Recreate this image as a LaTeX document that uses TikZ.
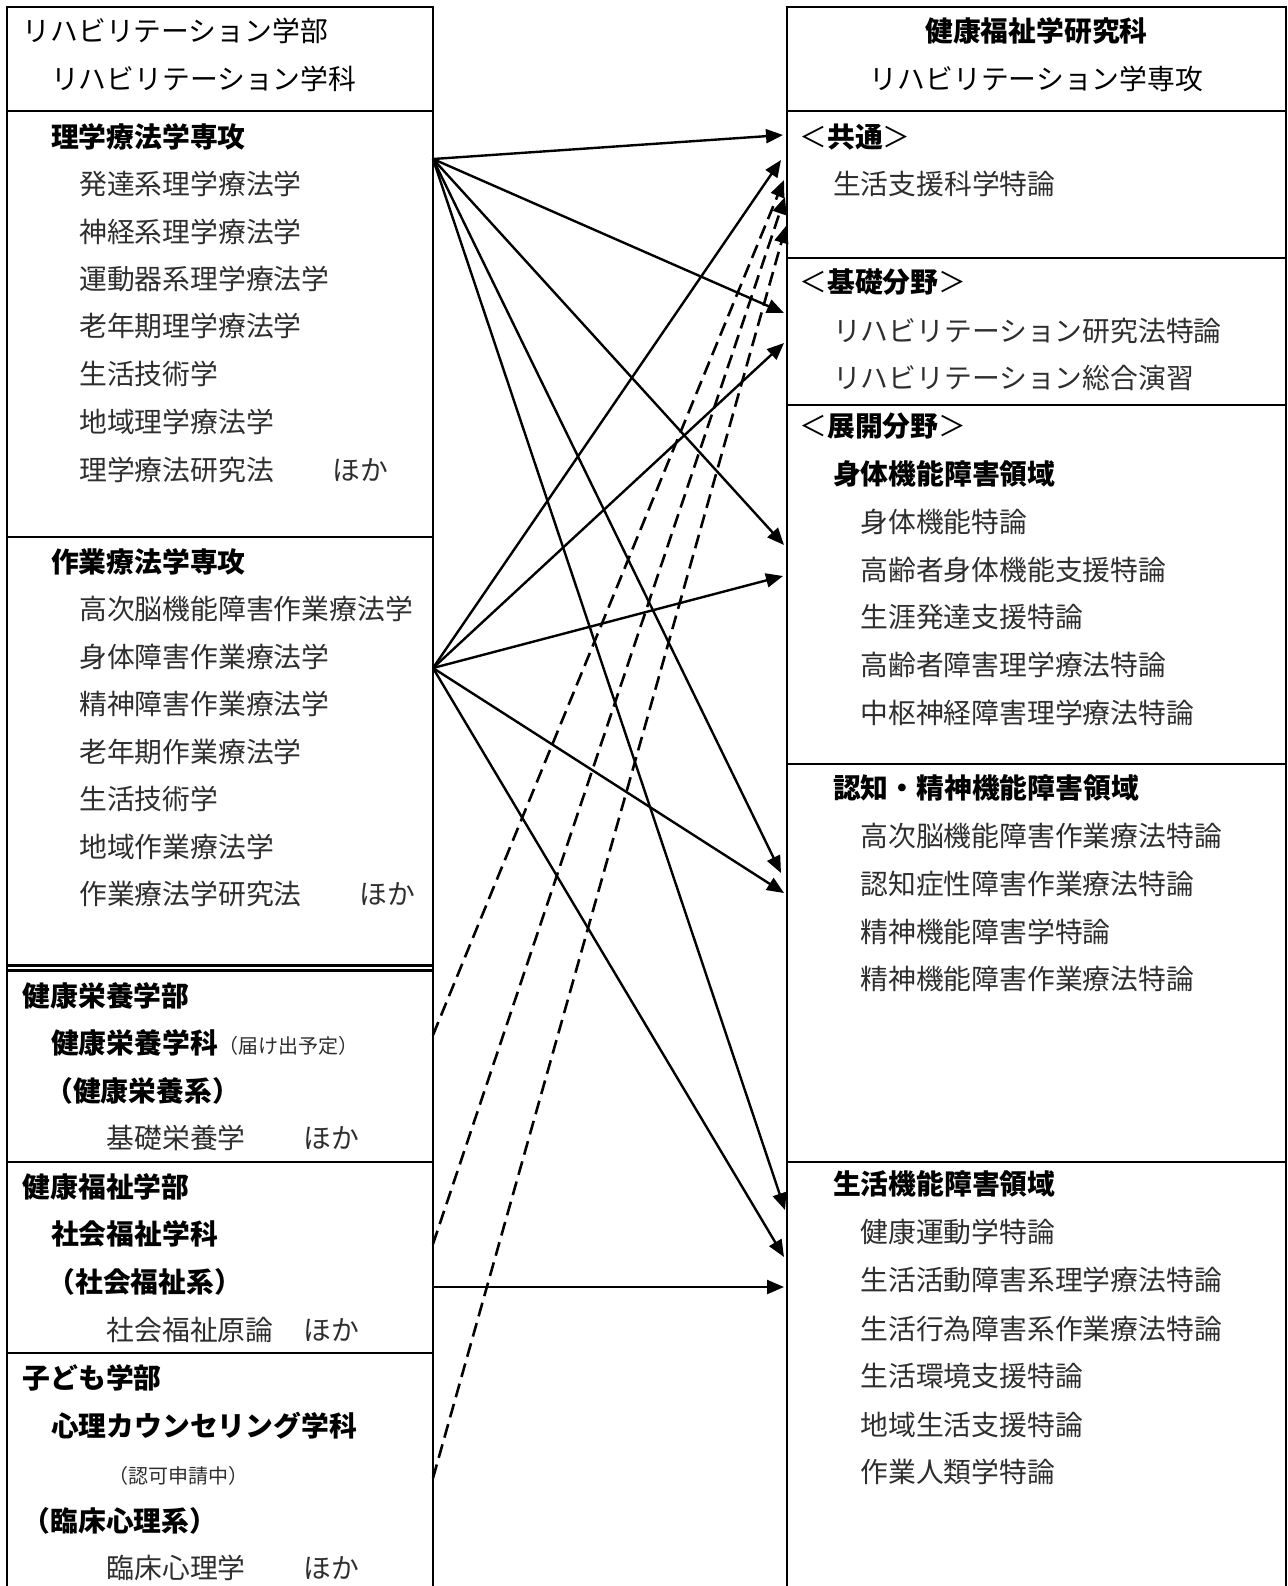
\documentclass[tikz,border=0pt]{standalone}
\usepackage{fontspec}
\setmainfont{Noto Sans CJK JP}
\usetikzlibrary{arrows.meta}
\begin{document}
\begin{tikzpicture}[x=0.5pt,y=-0.5pt,
  boxline/.style={line width=1.1pt},
  txt/.style={anchor=west,inner sep=0pt,text height=12.2pt,text depth=1.7pt,font=\fontsize{13.9pt}{16pt}\selectfont},
  hd/.style={txt,font=\fontsize{13.9pt}{16pt}\selectfont\bfseries},
  itm/.style={txt,text=black!82},
  small/.style={txt,text=black!82,font=\fontsize{10pt}{12pt}\selectfont},
  ctr/.style={anchor=center},
  conn/.style={line width=1.2pt,-{Triangle[length=8.5pt,width=7pt]}},
  dconn/.style={conn,line width=1.3pt,dash pattern=on 7pt off 3.5pt},
]
\useasboundingbox (0,0) rectangle (1288,1586);
% ---------------- boxes ----------------
\draw[boxline] (7,1590) -- (7,7) -- (433,7) -- (433,1590);
\draw[boxline] (7,111) -- (433,111);
\draw[boxline] (7,537) -- (433,537);
\draw[boxline] (7,965.5) -- (433,965.5);
\draw[boxline] (7,970.5) -- (433,970.5);
\draw[boxline] (7,1162) -- (433,1162);
\draw[boxline] (7,1353) -- (433,1353);
\draw[boxline] (787,1590) -- (787,7) -- (1286,7) -- (1286,1590);
\draw[boxline] (787,111) -- (1286,111);
\draw[boxline] (787,258) -- (1286,258);
\draw[boxline] (787,405) -- (1286,405);
\draw[boxline] (787,764) -- (1286,764);
\draw[boxline] (787,1162) -- (1286,1162);
% ---------------- left texts ----------------
\node[txt] (l1) at (22.3,31.4) {リハビリテーション学部};
\node[txt] (l2) at (50.6,79) {リハビリテーション学科};
\node[hd]  (l3) at (50.6,136.6) {理学療法学専攻};
\node[itm] (l4) at (78.9,184.1) {発達系理学療法学};
\node[itm] (l5) at (78.9,231.7) {神経系理学療法学};
\node[itm] (l6) at (78.9,279.3) {運動器系理学療法学};
\node[itm] (l7) at (78.9,325.8) {老年期理学療法学};
\node[itm] (l8) at (78.9,374.4) {生活技術学};
\node[itm] (l9) at (78.9,421.9) {地域理学療法学};
\node[itm] (l10) at (78.9,469.5) {理学療法研究法};
\node[itm] (l10h) at (331.9,469.5) {ほか};
\node[hd]  (l11) at (50.6,561.5) {作業療法学専攻};
\node[itm] (l12) at (78.9,609) {高次脳機能障害作業療法学};
\node[itm] (l13) at (78.9,656.7) {身体障害作業療法学};
\node[itm] (l14) at (78.9,704.2) {精神障害作業療法学};
\node[itm] (l15) at (78.9,751.8) {老年期作業療法学};
\node[itm] (l16) at (78.9,799.3) {生活技術学};
\node[itm] (l17) at (78.9,846.9) {地域作業療法学};
\node[itm] (l18) at (78.9,894.4) {作業療法学研究法};
\node[itm] (l18h) at (359.2,894.4) {ほか};
\node[hd]  (l19) at (22.3,995.6) {健康栄養学部};
\node[hd]  (l20) at (50.6,1043.2) {健康栄養学科};
\node[small,anchor=base west] (l20s) at (l20.base east) {（届け出予定）};
\node[hd]  (l21) at (45,1090.7) {（健康栄養系）};
\node[itm] (l22) at (106.2,1138.3) {基礎栄養学};
\node[itm] (l22h) at (303.5,1138.3) {ほか};
\node[hd]  (l23) at (22.3,1186.8) {健康福祉学部};
\node[hd]  (l24) at (50.6,1234.4) {社会福祉学科};
\node[hd]  (l25) at (47,1281.9) {（社会福祉系）};
\node[itm] (l26) at (106.2,1329.5) {社会福祉原論};
\node[itm] (l26h) at (303.5,1329.5) {ほか};
\node[hd]  (l27) at (22.3,1378.1) {子ども学部};
\node[hd]  (l28) at (50.6,1425.6) {心理カウンセリング学科};
\node[small] (l29) at (108,1473.2) {（認可申請中）};
\node[hd]  (l30) at (22.3,1520.7) {（臨床心理系）};
\node[itm] (l31) at (106.2,1568.3) {臨床心理学};
\node[itm] (l31h) at (303.5,1568.3) {ほか};
% ---------------- right texts ----------------
\node[hd,ctr] (r1) at (1036.5,31.4) {健康福祉学研究科};
\node[txt,ctr] (r2) at (1036.5,79) {リハビリテーション学専攻};
\node[txt] (r3) at (799,136.6) {＜{\bfseries 共通}＞};
\node[itm] (r4) at (832.7,184.1) {生活支援科学特論};
\node[txt] (r5) at (799,282.3) {＜{\bfseries 基礎分野}＞};
\node[itm] (r6) at (832.7,330.9) {リハビリテーション研究法特論};
\node[itm] (r7) at (832.7,378.4) {リハビリテーション総合演習};
\node[txt] (r8) at (799,426) {＜{\bfseries 展開分野}＞};
\node[hd]  (r9) at (832.7,473.5) {身体機能障害領域};
\node[itm] (r10) at (860,522.1) {身体機能特論};
\node[itm] (r11) at (860,569.6) {高齢者身体機能支援特論};
\node[itm] (r12) at (860,617.2) {生涯発達支援特論};
\node[itm] (r13) at (860,664.8) {高齢者障害理学療法特論};
\node[itm] (r14) at (860,713.3) {中枢神経障害理学療法特論};
\node[hd]  (r15) at (832.7,788.2) {認知・精神機能障害領域};
\node[itm] (r16) at (860,835.7) {高次脳機能障害作業療法特論};
\node[itm] (r17) at (860,884.3) {認知症性障害作業療法特論};
\node[itm] (r18) at (860,931.9) {精神機能障害学特論};
\node[itm] (r19) at (860,979.4) {精神機能障害作業療法特論};
\node[hd]  (r20) at (832.7,1183.8) {生活機能障害領域};
\node[itm] (r21) at (860,1232.4) {健康運動学特論};
\node[itm] (r22) at (860,1279.9) {生活活動障害系理学療法特論};
\node[itm] (r23) at (860,1328.5) {生活行為障害系作業療法特論};
\node[itm] (r24) at (860,1376) {生活環境支援特論};
\node[itm] (r25) at (860,1424.6) {地域生活支援特論};
\node[itm] (r26) at (860,1472.2) {作業人類学特論};
% ---------------- connector ends ----------------
\coordinate (sA) at (433,159);
\coordinate (sB) at (433,668);
\coordinate (sC) at (433,1035);
\coordinate (sD) at (433,1244);
\coordinate (sE) at (433,1287);
\coordinate (sF) at (433,1478);
\coordinate (tA1) at (783,135);
\coordinate (tA2) at (784,313);
\coordinate (tA3) at (784,545);
\coordinate (tA4) at (781,873);
\coordinate (tA5) at (785,1210);
\coordinate (tB1) at (781,160);
\coordinate (tB2) at (784,343);
\coordinate (tB3) at (783,576);
\coordinate (tB4) at (784,893);
\coordinate (tB5) at (784,1257);
\coordinate (tE) at (784,1287);
\coordinate (tC) at (784,180);
\coordinate (tD) at (785,197);
\coordinate (tF) at (786,226);
% ---------------- connectors ----------------
\draw[conn] (sA) -- (tA1);
\draw[conn] (sA) -- (tA2);
\draw[conn] (sA) -- (tA3);
\draw[conn] (sA) -- (tA4);
\draw[conn] (sA) -- (tA5);
\draw[conn] (sB) -- (tB1);
\draw[conn] (sB) -- (tB2);
\draw[conn] (sB) -- (tB3);
\draw[conn] (sB) -- (tB4);
\draw[conn] (sB) -- (tB5);
\draw[conn] (sE) -- (tE);
\draw[dconn] (sC) -- (tC);
\draw[dconn] (sD) -- (tD);
\draw[dconn] (sF) -- (tF);
\end{tikzpicture}
\end{document}
